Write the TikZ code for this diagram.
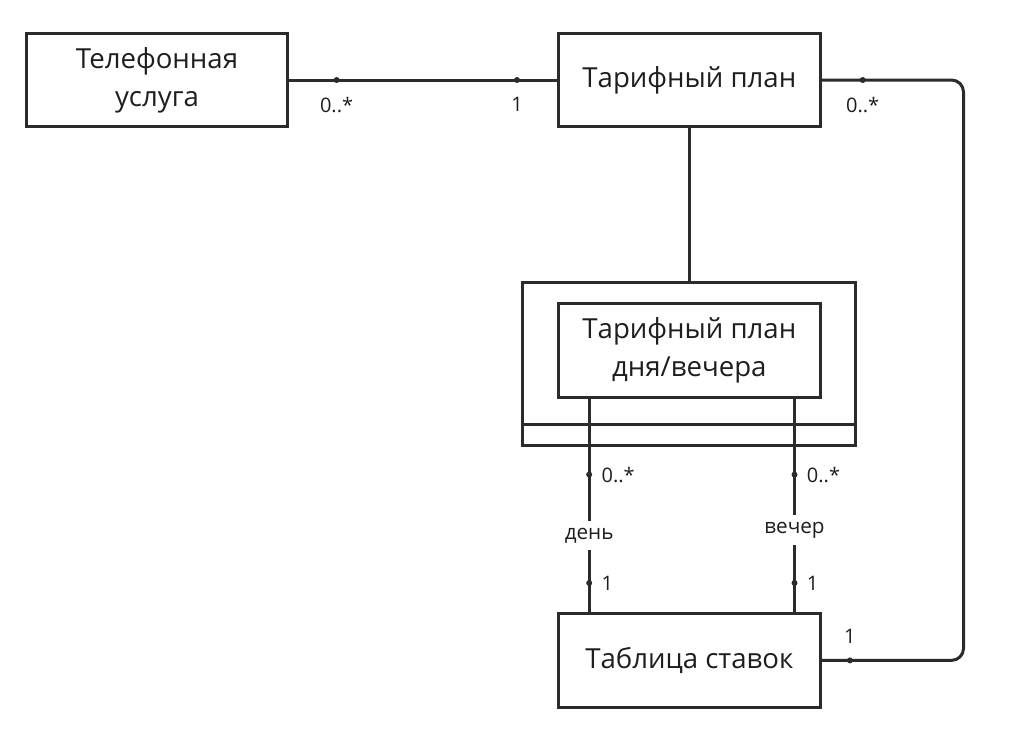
\documentclass[tikz,border=0pt]{standalone}
\usepackage{fontspec}
\setmainfont{Open Sans}
\usetikzlibrary{positioning}
\definecolor{umlline}{HTML}{2B2B2B}
\definecolor{umltext}{HTML}{1E1E1E}

\begin{document}
\begin{tikzpicture}[
  x=0.75pt, y=-0.75pt,
  box/.style={draw=umlline, line width=2.25pt, text=umltext, align=center,
    minimum width=196pt, minimum height=70pt,
    font=\fontsize{20.7}{28.5}\selectfont},
  frame/.style={draw=umlline, line width=2.25pt, outer sep=0pt,
    minimum width=249.75pt, minimum height=122.25pt},
  link/.style={draw=umlline, line width=2.25pt},
  dot/.style={circle, fill=umlline, inner sep=0pt, minimum size=4.5pt},
  mult/.style={text=umltext, font=\fontsize{15}{17}\selectfont},
  role/.style={fill=white, text=umltext, inner xsep=2pt, inner ysep=5pt,
    font=\fontsize{15.5}{17}\selectfont}
]
\useasboundingbox (0,0) rectangle (1019,747);

\node[box] (usluga) at (157,80) {Телефонная\\услуга};
\node[box, right=201pt of usluga] (plan) {Тарифный план};
\node[frame, below=115.9pt of plan] (outer) {};
\node[box, below=14.6pt of outer.north] (inner) {Тарифный план\\дня/вечера};
\node[box, below=124.9pt of outer] (tab) {Таблица ставок};

\draw[link] ([yshift=15.75pt]outer.south west) -- ([yshift=15.75pt]outer.south east);

\draw[link] (usluga) --
  node[dot, pos=0.177, label={[mult, label distance=5pt]below:0..*}] {}
  node[dot, pos=0.85, label={[mult, label distance=5pt]below:1}] {} (plan);
\draw[link] (plan) -- (outer);
\draw[link, rounded corners=9pt] (plan.east) --
  node[dot, pos=0.29, label={[mult, label distance=5pt]below:0..*}] {} ++(142,0) |-
  node[dot, pos=0.9, label={[mult, label distance=5pt]above:1}] {} (tab.east);
\draw[link] ([xshift=24pt]inner.south west) --
  node[dot, pos=0.356, label={[mult, label distance=1.5pt]right:0..*}] {}
  node[role, pos=0.64] {день}
  node[dot, pos=0.863, label={[mult, label distance=1.5pt]right:1}] {} ([xshift=24pt]tab.north west);
\draw[link] ([xshift=-20.25pt]inner.south east) --
  node[dot, pos=0.356, label={[mult, label distance=1.5pt]right:0..*}] {}
  node[role, pos=0.616] {вечер}
  node[dot, pos=0.863, label={[mult, label distance=1.5pt]right:1}] {} ([xshift=-20.25pt]tab.north east);
\end{tikzpicture}
\end{document}
